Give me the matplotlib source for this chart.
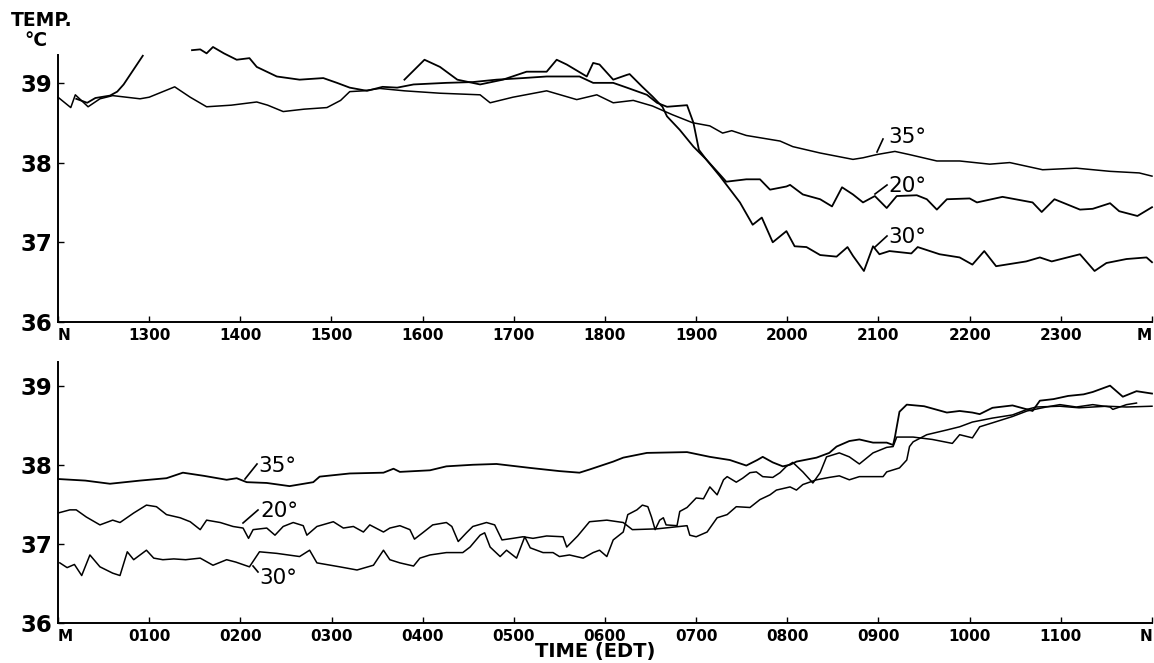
import numpy as np
import matplotlib
matplotlib.use("Agg")
import matplotlib.pyplot as plt
import matplotlib.transforms as mtransforms

# ---------------- data: upper panel (noon to midnight, hours) ----------------
top35_h = [12.0, 12.14, 12.19, 12.33, 12.46, 12.6, 12.9, 13.0, 13.28, 13.45, 13.63, 13.9, 14.18, 14.3,
           14.47, 14.7, 14.95, 15.1, 15.2, 15.35, 15.53, 15.8, 16.19, 16.63, 16.74, 16.99, 17.36, 17.69,
           17.91, 18.09, 18.31, 18.52, 18.74, 18.96, 19.15, 19.29, 19.39, 19.55, 19.92, 20.06, 20.36,
           20.72, 20.83, 20.98, 21.18, 21.34, 21.64, 21.89, 22.22, 22.44, 22.8, 23.17, 23.54, 23.86, 24.0]
top35_t = [38.82, 38.69, 38.85, 38.7, 38.8, 38.84, 38.8, 38.82, 38.95, 38.82, 38.7, 38.72, 38.76, 38.72,
           38.64, 38.67, 38.69, 38.78, 38.89, 38.9, 38.93, 38.9, 38.87, 38.85, 38.75, 38.82, 38.9, 38.79,
           38.85, 38.75, 38.78, 38.71, 38.6, 38.5, 38.46, 38.37, 38.4, 38.34, 38.27, 38.2, 38.12,
           38.04, 38.06, 38.1, 38.14, 38.1, 38.02, 38.02, 37.98, 38.0, 37.91, 37.93, 37.89, 37.87, 37.83]

top20_h = [12.2, 12.32, 12.41, 12.57, 12.65, 12.72, 12.79, 12.86, 12.93, 13.2,
           13.47, 13.56, 13.63, 13.7, 13.82, 13.96, 14.1, 14.18, 14.4, 14.65, 14.91, 15.06, 15.2, 15.39,
           15.56, 15.72, 15.9, 16.26, 16.55, 16.81, 17.1, 17.36, 17.72, 17.87, 18.09, 18.24, 18.46, 18.57,
           18.68, 18.9, 18.97, 19.03, 19.11, 19.26, 19.33, 19.55, 19.7, 19.81, 19.99, 20.03, 20.17, 20.36,
           20.49, 20.6, 20.72, 20.83, 20.96, 21.09, 21.2, 21.42, 21.53, 21.64, 21.75, 22.0, 22.08, 22.36,
           22.69, 22.79, 22.93, 23.21, 23.35, 23.54, 23.64, 23.84, 24.0]
top20_t = [38.8, 38.75, 38.81, 38.84, 38.89, 38.98, 39.1, 39.22, 39.34, np.nan,
           39.41, 39.42, 39.37, 39.45, 39.37, 39.29, 39.31, 39.2, 39.08, 39.04, 39.06, 39.0, 38.94, 38.9,
           38.95, 38.94, 38.98, 39.0, 39.01, 39.04, 39.06, 39.08, 39.08, 39.0, 39.0, 38.94, 38.85, 38.75,
           38.7, 38.72, 38.5, 38.16, 38.04, 37.85, 37.76, 37.79, 37.79, 37.66, 37.7, 37.72, 37.6, 37.54,
           37.45, 37.69, 37.6, 37.5, 37.58, 37.43, 37.58, 37.59, 37.54, 37.41, 37.54, 37.55, 37.5, 37.57,
           37.5, 37.38, 37.54, 37.41, 37.42, 37.49, 37.39, 37.33, 37.44]

top30_h = [15.8, 16.02, 16.19, 16.38, 16.63, 16.88, 17.14, 17.36, 17.47, 17.58, 17.8, 17.87, 17.94,
           18.09, 18.24, 18.27, 18.41, 18.52, 18.63, 18.68, 18.82, 18.97, 19.11, 19.26, 19.48, 19.62,
           19.72, 19.84, 19.99, 20.08, 20.21, 20.36, 20.54, 20.66, 20.72, 20.84, 20.94, 21.01, 21.12,
           21.36, 21.43, 21.67, 21.89, 22.03, 22.16, 22.29, 22.62, 22.77, 22.9, 23.21, 23.37, 23.5,
           23.72, 23.94, 24.0]
top30_t = [39.04, 39.29, 39.2, 39.04, 38.98, 39.04, 39.14, 39.14, 39.29, 39.23, 39.08, 39.25, 39.23,
           39.04, 39.1, 39.11, 38.95, 38.83, 38.7, 38.58, 38.41, 38.2, 38.04, 37.83, 37.5, 37.22,
           37.31, 37.0, 37.14, 36.95, 36.94, 36.84, 36.82, 36.94, 36.83, 36.64, 36.95, 36.85, 36.89,
           36.86, 36.94, 36.85, 36.81, 36.72, 36.89, 36.7, 36.76, 36.81, 36.76, 36.85, 36.64, 36.74,
           36.79, 36.81, 36.75]

# ---------------- data: lower panel (midnight to noon, hours) ----------------
bot35_h = [0.0, 0.3, 0.57, 0.9, 1.19, 1.37, 1.6, 1.85, 1.96, 2.07, 2.29, 2.54, 2.8, 2.87, 3.2, 3.57,
           3.68, 3.75, 4.08, 4.26, 4.55, 4.81, 5.18, 5.5, 5.72, 5.83, 6.09, 6.2, 6.46, 6.9, 7.15, 7.37,
           7.55, 7.67, 7.73, 7.84, 7.95, 8.03, 8.1, 8.32, 8.46, 8.54, 8.68, 8.79, 8.94, 9.09, 9.16, 9.18,
           9.23, 9.31, 9.5, 9.75, 9.89, 10.03, 10.11, 10.25, 10.47, 10.63, 10.69, 10.77, 10.92, 11.08,
           11.25, 11.35, 11.54, 11.68, 11.83, 12.0]
bot35_t = [37.82, 37.8, 37.76, 37.8, 37.83, 37.9, 37.86, 37.81, 37.83, 37.78, 37.77, 37.73, 37.78, 37.85,
           37.89, 37.9, 37.95, 37.91, 37.93, 37.98, 38.0, 38.01, 37.96, 37.92, 37.9, 37.94, 38.04, 38.09,
           38.15, 38.16, 38.1, 38.06, 37.99, 38.06, 38.1, 38.03, 37.98, 38.0, 38.04, 38.09, 38.15, 38.23,
           38.3, 38.32, 38.28, 38.28, 38.25, 38.35, 38.67, 38.76, 38.74, 38.66, 38.68, 38.66, 38.64,
           38.72, 38.75, 38.7, 38.68, 38.81, 38.83, 38.87, 38.89, 38.92, 39.0, 38.86, 38.93, 38.9]

bot20_h = [0.0, 0.13, 0.2, 0.31, 0.46, 0.6, 0.68, 0.83, 0.97, 1.08, 1.19, 1.34, 1.45, 1.56, 1.63, 1.78,
           1.92, 2.03, 2.09, 2.14, 2.29, 2.38, 2.47, 2.58, 2.69, 2.73, 2.84, 3.02, 3.13, 3.24, 3.35, 3.42,
           3.57, 3.64, 3.75, 3.86, 3.91, 4.0, 4.11, 4.26, 4.32, 4.39, 4.48, 4.55, 4.7, 4.79, 4.87, 4.99,
           5.1, 5.21, 5.36, 5.54, 5.58, 5.7, 5.83, 6.02, 6.2, 6.3, 6.57, 6.9, 6.93, 7.0, 7.12, 7.23, 7.34,
           7.44, 7.59, 7.7, 7.81, 7.88, 8.03, 8.1, 8.17, 8.32, 8.46, 8.57, 8.68, 8.79, 9.05, 9.09, 9.23,
           9.31, 9.34, 9.38, 9.53, 9.75, 9.89, 10.03, 10.25, 10.47, 10.63, 10.73, 10.99, 11.2, 11.5,
           11.72, 12.0]
bot20_t = [37.39, 37.43, 37.43, 37.34, 37.24, 37.3, 37.27, 37.39, 37.49, 37.47, 37.37, 37.33, 37.28,
           37.18, 37.3, 37.27, 37.22, 37.2, 37.07, 37.18, 37.2, 37.11, 37.22, 37.27, 37.23, 37.11, 37.22,
           37.28, 37.2, 37.22, 37.15, 37.24, 37.15, 37.2, 37.23, 37.18, 37.06, 37.14, 37.24, 37.27, 37.22,
           37.03, 37.14, 37.22, 37.27, 37.24, 37.05, 37.07, 37.09, 37.07, 37.1, 37.09, 36.96, 37.1, 37.28,
           37.3, 37.27, 37.18, 37.19, 37.23, 37.11, 37.09, 37.15, 37.33, 37.37, 37.47, 37.46, 37.56,
           37.62, 37.68, 37.72, 37.68, 37.75, 37.81, 37.84, 37.86, 37.81, 37.85, 37.85, 37.91, 37.96,
           38.06, 38.23, 38.29, 38.38, 38.44, 38.48, 38.54, 38.59, 38.63, 38.7, 38.73, 38.74, 38.72,
           38.74, 38.73, 38.74]

bot30_h = [0.02, 0.1, 0.18, 0.26, 0.35, 0.46, 0.6, 0.68, 0.76, 0.83, 0.97, 1.05, 1.15, 1.27, 1.4, 1.56,
           1.7, 1.85, 1.95, 2.1, 2.21, 2.4, 2.65, 2.76, 2.84, 3.09, 3.28, 3.46, 3.57, 3.64, 3.75, 3.9,
           3.97, 4.08, 4.26, 4.44, 4.52, 4.63, 4.68, 4.74, 4.85, 4.92, 5.03, 5.12, 5.18, 5.32, 5.43, 5.5,
           5.61, 5.76, 5.87, 5.94, 6.02, 6.09, 6.2, 6.25, 6.35, 6.41, 6.47, 6.51, 6.55, 6.6, 6.64, 6.67,
           6.79, 6.82, 6.9, 7.0, 7.08, 7.15, 7.23, 7.3, 7.34, 7.44, 7.51, 7.59, 7.66, 7.73, 7.84, 7.92,
           7.99, 8.06, 8.17, 8.28, 8.36, 8.43, 8.57, 8.68, 8.79, 8.94, 9.09, 9.16, 9.2, 9.38, 9.59, 9.81,
           9.89, 10.03, 10.11, 10.25, 10.47, 10.63, 10.84, 10.99, 11.17, 11.35, 11.54, 11.57, 11.72, 11.83]
bot30_t = [36.76, 36.7, 36.74, 36.6, 36.86, 36.71, 36.63, 36.6, 36.9, 36.8, 36.92, 36.82, 36.8, 36.81,
           36.8, 36.82, 36.73, 36.8, 36.77, 36.71, 36.9, 36.88, 36.84, 36.92, 36.76, 36.71, 36.67, 36.73,
           36.92, 36.8, 36.76, 36.72, 36.82, 36.86, 36.89, 36.89, 36.96, 37.11, 37.14, 36.96, 36.84,
           36.92, 36.82, 37.09, 36.95, 36.89, 36.89, 36.84, 36.86, 36.82, 36.89, 36.92, 36.84, 37.05,
           37.15, 37.37, 37.43, 37.49, 37.47, 37.34, 37.18, 37.3, 37.33, 37.24, 37.23, 37.41, 37.46,
           37.58, 37.57, 37.72, 37.62, 37.81, 37.85, 37.78, 37.83, 37.9, 37.91, 37.85, 37.84, 37.9, 37.98,
           38.03, 37.91, 37.77, 37.9, 38.1, 38.15, 38.1, 38.01, 38.15, 38.22, 38.23, 38.35, 38.35, 38.32,
           38.27, 38.38, 38.34, 38.48, 38.53, 38.61, 38.68, 38.73, 38.76, 38.73, 38.76, 38.73, 38.7,
           38.76, 38.78]

top_ticks = list(range(12, 25))
top_labels = ["N", "1300", "1400", "1500", "1600", "1700", "1800", "1900", "2000", "2100", "2200", "2300", "M"]
bot_ticks = list(range(0, 13))
bot_labels = ["M", "0100", "0200", "0300", "0400", "0500", "0600", "0700", "0800", "0900", "1000", "1100", "N"]
y_ticks = [36, 37, 38, 39]

# ---------------- figure ----------------
W, H = 1154, 663
fig = plt.figure(figsize=(W / 100, H / 100), dpi=100)
fig.patch.set_facecolor("white")

def fx(px):
    return px / W

def fy(py):
    return 1 - py / H

ax1 = fig.add_axes([fx(58), fy(322), fx(1152 - 58), (322 - 43) / H])
ax2 = fig.add_axes([fx(58), fy(623), fx(1152 - 58), (623 - 354) / H])

lw = 1.3
ax1.plot(top35_h, top35_t, color="black", lw=1.1)
ax1.plot(top20_h, top20_t, color="black", lw=lw)
ax1.plot(top30_h, top30_t, color="black", lw=lw)
ax2.plot(bot35_h, bot35_t, color="black", lw=lw)
ax2.plot(bot20_h, bot20_t, color="black", lw=1.1)
ax2.plot(bot30_h, bot30_t, color="black", lw=1.1)

for ax, xl, ticks, labels, ytop, spine_top in [
        (ax1, (12, 24), top_ticks, top_labels, 39.5, 39.35),
        (ax2, (0, 12), bot_ticks, bot_labels, 39.4, 39.3)]:
    ax.set_xlim(*xl)
    ax.set_ylim(36, ytop)
    for s in ("top", "right"):
        ax.spines[s].set_visible(False)
    ax.spines["left"].set_bounds(36, spine_top)
    ax.spines["left"].set_linewidth(1.4)
    ax.spines["bottom"].set_linewidth(1.4)
    ax.set_xticks(ticks)
    ax.set_xticklabels(labels, fontsize=11, fontweight="bold")
    xt = ax.get_xticklabels()
    # end labels sit at the picture/axis corners: keep them clear
    xt[-1].set_horizontalalignment("right")
    xt[0].set_horizontalalignment("left")
    xt[0].set_transform(xt[0].get_transform() +
                        mtransforms.ScaledTranslation(-2 / 100, 0, fig.dpi_scale_trans))
    ax.set_yticks(y_ticks)
    ax.set_yticklabels([str(v) for v in y_ticks], fontsize=16.5, fontweight="bold")
    ax.tick_params(axis="x", direction="in", length=4, width=1, pad=4)
    ax.tick_params(axis="y", direction="in", length=4, width=1, pad=4)
    ax.set_facecolor("white")
    for line in ax.get_lines():
        line.set_clip_on(False)

# curve labels
def lab(text, x0, y0, x1, y1, tx, ty):
    fig.add_artist(plt.Line2D([fx(x0), fx(x1)], [fy(y0), fy(y1)], color="black", lw=1.2,
                              transform=fig.transFigure))
    fig.text(fx(tx), fy(ty), text, fontsize=15.5, ha="left", va="center")

lab("35°", 877, 152, 883, 139, 888, 137)
lab("20°", 875, 194, 887, 185, 888, 186)
lab("30°", 875, 247, 887, 236, 888, 237)
lab("35°", 245, 479, 257, 464, 258, 466)
lab("20°", 243, 523, 258, 510, 260, 511)
lab("30°", 253, 566, 258, 572, 259, 578)

fig.text(fx(11), fy(20), "TEMP.", fontsize=13.5, fontweight="bold", ha="left", va="center")
fig.text(fx(24), fy(40), "°C", fontsize=13.5, fontweight="bold", ha="left", va="center")
fig.text(fx(595), fy(651), "TIME (EDT)", fontsize=14, fontweight="bold", ha="center", va="center")

fig.savefig("out.png", dpi=100, facecolor="white")
